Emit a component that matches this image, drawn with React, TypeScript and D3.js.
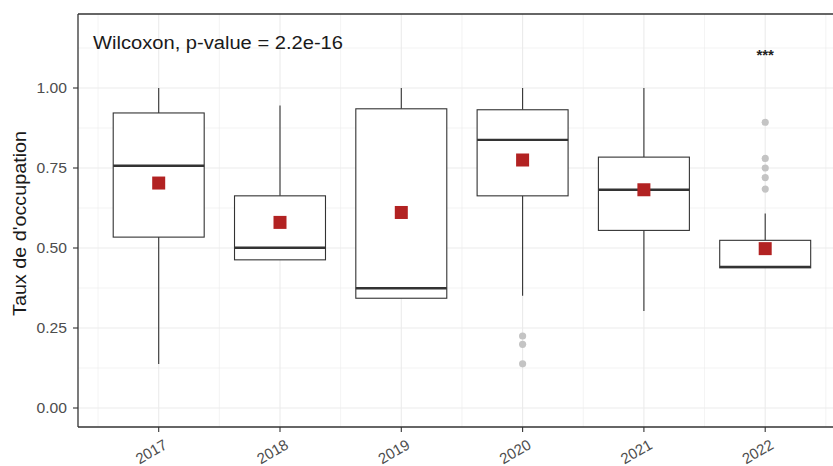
import React from "react";
import * as d3 from "d3";

const years = ["2017", "2018", "2019", "2020", "2021", "2022"];
const q1 = [0.534, 0.463, 0.343, 0.663, 0.555, 0.438];
const medians = [0.757, 0.501, 0.374, 0.838, 0.682, 0.441];
const q3 = [0.922, 0.663, 0.935, 0.932, 0.784, 0.524];
const whiskerLow = [0.1375, 0.463, 0.343, 0.351, 0.303, 0.438];
const whiskerHigh = [1.0, 0.945, 1.0, 1.0, 1.0, 0.608];
const means = [0.703, 0.58, 0.611, 0.775, 0.682, 0.498];
const outlierYears = ["2020", "2020", "2020", "2022", "2022", "2022", "2022", "2022"];
const outlierValues = [0.225, 0.199, 0.138, 0.893, 0.78, 0.75, 0.72, 0.684];
const yTicks = [0, 0.25, 0.5, 0.75, 1.0];
const yMinor = [0.125, 0.375, 0.625, 0.875, 1.125];
const annotation = "Wilcoxon, p-value = 2.2e-16";
const signif = "***";
const signifYear = "2022";
const signifValue = 1.11;
const yTitle = "Taux de d'occupation";

const W = 833;
const H = 466;
const panelLeft = 78;
const panelTop = 14;
const panelBottom = 427;
const panelRight = 846;

export default function App() {
  const x = d3.scalePoint<string>().domain(years).range([158.7, 765.2]);
  const step = x.step();
  const y = d3.scaleLinear().domain([0, 1]).range([408, 88]);
  const boxW = step * 0.75;
  const font = "Arial, 'Liberation Sans', Helvetica, sans-serif";
  const minorX = d3.range(years.length + 1).map((i) => (x(years[0]) as number) + (i - 0.5) * step);

  return (
    <svg
      width={W}
      height={H}
      style={{ position: "absolute", left: 0, top: 0, background: "#fff" }}
      fontFamily={font}
    >
      <defs>
        <clipPath id="panel">
          <rect x={panelLeft} y={panelTop} width={panelRight - panelLeft} height={panelBottom - panelTop} />
        </clipPath>
      </defs>
      <rect x={0} y={0} width={W} height={H} fill="#fff" />
      <g clipPath="url(#panel)">
        {yMinor.map((v) => (
          <line key={"ym" + v} x1={panelLeft} x2={panelRight} y1={y(v)} y2={y(v)} stroke="#ebebeb" strokeWidth={0.6} />
        ))}
        {minorX.map((v, i) => (
          <line key={"xm" + i} x1={v} x2={v} y1={panelTop} y2={panelBottom} stroke="#ebebeb" strokeWidth={0.6} />
        ))}
        {yTicks.map((v) => (
          <line key={"yM" + v} x1={panelLeft} x2={panelRight} y1={y(v)} y2={y(v)} stroke="#ebebeb" strokeWidth={1.1} />
        ))}
        {years.map((yr) => (
          <line key={"xM" + yr} x1={x(yr)} x2={x(yr)} y1={panelTop} y2={panelBottom} stroke="#ebebeb" strokeWidth={1.1} />
        ))}
        {years.map((yr, i) => {
          const cx = x(yr) as number;
          return (
            <g key={"box" + yr}>
              <line x1={cx} x2={cx} y1={y(q3[i])} y2={y(whiskerHigh[i])} stroke="#333" strokeWidth={1.1} />
              <line x1={cx} x2={cx} y1={y(q1[i])} y2={y(whiskerLow[i])} stroke="#333" strokeWidth={1.1} />
              <rect
                x={cx - boxW / 2}
                y={y(q3[i])}
                width={boxW}
                height={y(q1[i]) - y(q3[i])}
                fill="#fff"
                stroke="#333"
                strokeWidth={1.1}
              />
              <line x1={cx - boxW / 2} x2={cx + boxW / 2} y1={y(medians[i])} y2={y(medians[i])} stroke="#333" strokeWidth={2.4} />
            </g>
          );
        })}
        {outlierValues.map((v, i) => (
          <circle key={"o" + i} cx={x(outlierYears[i])} cy={y(v)} r={3.6} fill="#c4c4c4" />
        ))}
        {means.map((v, i) => (
          <rect
            key={"m" + i}
            x={(x(years[i]) as number) - 6.5}
            y={y(v) - 6.5}
            width={13}
            height={13}
            fill="#b22222"
          />
        ))}
        <text x={x(signifYear)} y={y(signifValue) + 7} textAnchor="middle" fontSize={15} fontWeight="bold" fill="#222">
          {signif}
        </text>
        <text x={93} y={48.5} fontSize={18} fill="#1a1a1a" textLength={250} lengthAdjust="spacingAndGlyphs">
          {annotation}
        </text>
      </g>
      <line x1={panelLeft} x2={panelRight} y1={panelTop} y2={panelTop} stroke="#333" strokeWidth={1.3} />
      <line x1={panelLeft} x2={panelRight} y1={panelBottom} y2={panelBottom} stroke="#333" strokeWidth={1.3} />
      <line x1={panelLeft} x2={panelLeft} y1={panelTop} y2={panelBottom} stroke="#333" strokeWidth={1.3} />
      {yTicks.map((v) => (
        <g key={"yt" + v}>
          <line x1={panelLeft - 5} x2={panelLeft} y1={y(v)} y2={y(v)} stroke="#333" strokeWidth={1.1} />
          <text x={panelLeft - 11} y={y(v) + 5} textAnchor="end" fontSize={14} fill="#4d4d4d" textLength={30.5} lengthAdjust="spacingAndGlyphs">
            {d3.format(".2f")(v)}
          </text>
        </g>
      ))}
      {years.map((yr) => {
        const cx = x(yr) as number;
        return (
          <g key={"xt" + yr}>
            <line x1={cx} x2={cx} y1={panelBottom} y2={panelBottom + 5} stroke="#333" strokeWidth={1.1} />
            <text
              transform={`translate(${cx + 4},${panelBottom + 11}) rotate(-30)`}
              textAnchor="end"
              dominantBaseline="hanging"
              fontSize={15}
              fill="#4d4d4d"
            >
              {yr}
            </text>
          </g>
        );
      })}
      <text
        transform={`translate(26,${(panelTop + panelBottom) / 2 + 3}) rotate(-90)`}
        textAnchor="middle"
        fontSize={18}
        fill="#1a1a1a"
        textLength={185}
        lengthAdjust="spacingAndGlyphs"
      >
        {yTitle}
      </text>
    </svg>
  );
}
